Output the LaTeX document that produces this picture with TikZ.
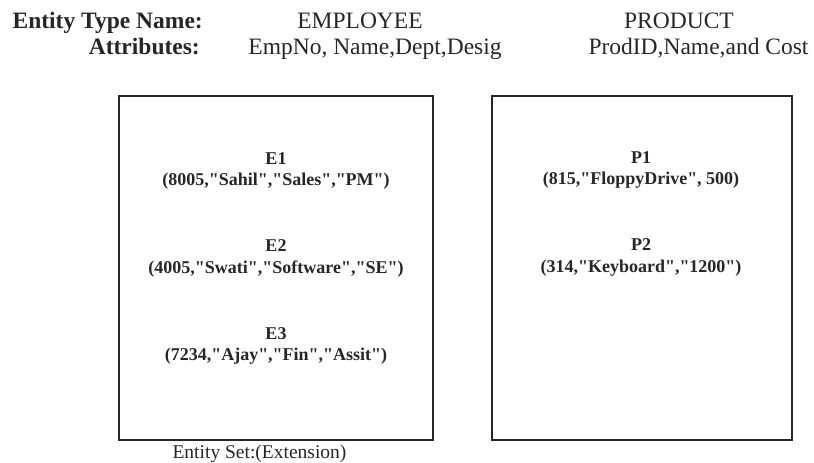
\documentclass[tikz,border=0pt]{standalone}
\usepackage{fontspec}
\setmainfont{Liberation Serif}[Ligatures=TeXOff]
\usetikzlibrary{positioning}
\definecolor{InkGray}{HTML}{262626}

\begin{document}
\begin{tikzpicture}[x=1pt,y=1pt,
hdr/.style={inner sep=0pt,text=InkGray,font=\fontsize{23.5}{26}\selectfont},
hdrkey/.style={hdr,anchor=base east,font=\fontsize{23.5}{26}\selectfont\bfseries},
setbox/.style={draw=InkGray,line width=1.3pt,minimum height=344pt,inner sep=0pt},
entry/.style={align=center,inner sep=0pt,text=InkGray,font=\fontsize{18}{21.5}\selectfont\bfseries},
lab/.style={inner sep=0pt,text=InkGray,font=\fontsize{19.5}{22}\selectfont},
on grid,node distance=87.5pt]
\useasboundingbox (0,0) rectangle (814,-463);
\node[hdrkey] (tname) at (203,-28) {Entity Type Name:};
\node[hdrkey] (tattr) at (200,-54) {Attributes:};
\node[hdr,anchor=base] (empname) at (360,-28) {EMPLOYEE};
\node[hdr,anchor=base] (empattr) at (375,-54) {EmpNo, Name,Dept,Desig};
\node[hdr,anchor=base] (prodname) at (679,-28) {PRODUCT};
\node[hdr,anchor=base] (prodattr) at (698.5,-54) {ProdID,Name,and Cost};
\node[setbox,minimum width=314pt] (empset) at (276,-268) {};
\node[setbox,minimum width=300pt] (prodset) at (642,-268) {};
\node[entry] (e1) at (276,-171) {E1\\(8005,"Sahil","Sales","PM")};
\node[entry,below=of e1] (e2) {E2\\(4005,"Swati","Software","SE")};
\node[entry,below=of e2] (e3) {E3\\(7234,"Ajay","Fin","Assit")};
\node[entry] (p1) at (641,-170) {P1\\(815,"FloppyDrive", 500)};
\node[entry,below=of p1] (p2) {P2\\(314,"Keyboard","1200")};
\node[lab,anchor=base] (extn) at (259.5,-458) {Entity Set:(Extension)};
\end{tikzpicture}
\end{document}
